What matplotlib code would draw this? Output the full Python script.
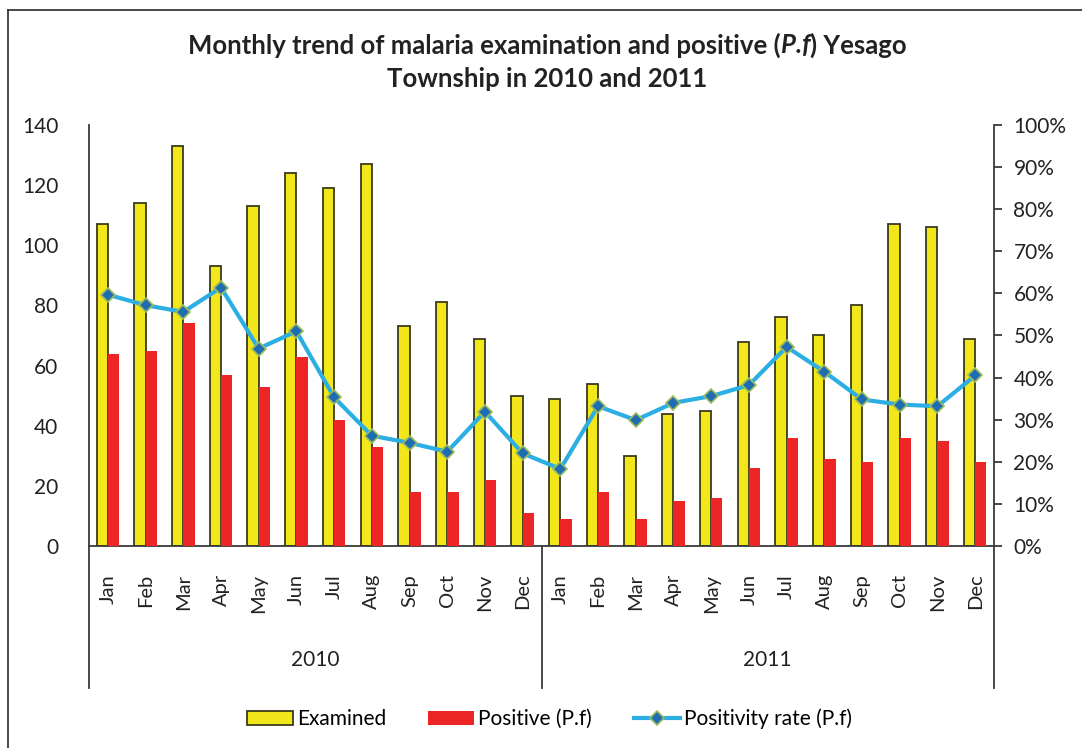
import numpy as np
import matplotlib.pyplot as plt
from matplotlib.lines import Line2D
from matplotlib.patches import Patch
import matplotlib.transforms as mtransforms

plt.rcParams['font.family'] = ['Lato', 'DejaVu Sans']

months = ['Jan', 'Feb', 'Mar', 'Apr', 'May', 'Jun', 'Jul', 'Aug', 'Sep', 'Oct', 'Nov', 'Dec']
years = ['2010', '2011']

examined = [107, 114, 133, 93, 113, 124, 119, 127, 73, 81, 69, 50,
            49, 54, 30, 44, 45, 68, 76, 70, 80, 107, 106, 69]
positive = [64, 65, 74, 57, 53, 63, 42, 33, 18, 18, 22, 11,
            9, 18, 9, 15, 16, 26, 36, 29, 28, 36, 35, 28]
rate = [59.7, 57.2, 55.6, 61.4, 46.9, 51.0, 35.3, 26.2, 24.5, 22.4, 31.9, 22.0,
        18.3, 33.2, 29.9, 34.0, 35.6, 38.2, 47.3, 41.4, 34.8, 33.6, 33.2, 40.5]

c_yel = '#F2E71A'
c_red = '#EE2526'
c_line = '#2BAEE3'
c_axis = '#3a3a3a'
c_txt = '#222222'

fig = plt.figure(figsize=(10.82, 7.48), dpi=100)
ax = fig.add_axes([89 / 1082, 202 / 748, 905 / 1082, 421 / 748])
ax2 = ax.twinx()

x = np.arange(len(examined))
w = 0.3
ax.bar(x - w / 2, examined, w, color=c_yel, edgecolor='#3b3a1c', linewidth=1.3, zorder=2)
ax.bar(x + w / 2, positive, w, color=c_red, linewidth=0, zorder=3)
ax2.plot(x, rate, color=c_line, lw=3, marker='D', ms=7, mfc='#1E6DB3',
         mec='#9DBB5A', mew=1.2, zorder=4)

ax.set_xlim(-0.5, len(x) - 0.5)
ax.set_ylim(0, 140)
ax.set_yticks(range(0, 141, 20))
ax2.set_ylim(0, 100)
ax2.set_yticks(range(0, 101, 10))
ax2.set_yticklabels([f'{v}%' for v in range(0, 101, 10)])

ax.set_xticks(x)
ax.set_xticklabels(months * 2, rotation=90, fontsize=14.5, color=c_txt)
ax.tick_params(axis='x', length=0, pad=20)
ax.tick_params(axis='y', length=0, pad=22, labelsize=15, colors=c_txt)
ax2.tick_params(axis='y', direction='out', length=6, width=1.3, color=c_axis,
                labelsize=15, labelcolor=c_txt, pad=8)

for a in (ax, ax2):
    a.spines['top'].set_visible(False)
    for s in ('left', 'right', 'bottom'):
        a.spines[s].set_color(c_axis)
        a.spines[s].set_linewidth(1.3)
ax.spines['right'].set_visible(False)
ax2.spines['left'].set_visible(False)
ax2.spines['bottom'].set_visible(False)

trans = mtransforms.blended_transform_factory(ax.transData, ax.transAxes)
for sep in (-0.5, 11.5, 23.5):
    ax.plot([sep, sep], [0, -0.337], transform=trans, color=c_axis, lw=1.3, clip_on=False)
for i, yr in enumerate(years):
    ax.text(i * 12 + 5.5, -0.271, yr, transform=trans, ha='center', va='center',
            fontsize=15, color=c_txt)

# title, with the italic P.f placed piece by piece
renderer = fig.canvas.get_renderer()
parts = [('Monthly trend of malaria examination and positive (', 'normal'),
         ('P.f', 'italic'), (') Yesago', 'normal')]
texts = [fig.text(0, 0.94, s, style=st, fontweight='bold', fontsize=18.5,
                  color=c_txt, va='center', ha='left') for s, st in parts]
widths = [t.get_window_extent(renderer).width / fig.bbox.width for t in texts]
xpos = 0.506 - sum(widths) / 2
for t, wd in zip(texts, widths):
    t.set_x(xpos)
    xpos += wd
fig.text(0.506, 0.895, 'Township in 2010 and 2011', ha='center', va='center',
         fontsize=18.5, fontweight='bold', color=c_txt)

handles = [Patch(facecolor=c_yel, edgecolor='#3b3a1c', linewidth=1.3),
           Patch(facecolor=c_red, linewidth=0),
           Line2D([], [], color=c_line, lw=3, marker='D', ms=7, mfc='#1E6DB3',
                  mec='#9DBB5A', mew=1.2)]
fig.legend(handles, ['Examined', 'Positive (P.f)', 'Positivity rate (P.f)'],
           loc='center', bbox_to_anchor=(0.508, 0.039), ncol=3, frameon=False,
           fontsize=15, handlelength=2.2, handleheight=0.65, columnspacing=2.0,
           handletextpad=0.2)

# outer chart frame (cropped on the right and bottom)
fig.add_artist(Line2D([8 / 1082, 8 / 1082], [0, 1 - 10 / 748], color=c_axis, lw=1.3))
fig.add_artist(Line2D([8 / 1082, 1], [1 - 10 / 748, 1 - 10 / 748], color=c_axis, lw=1.3))

fig.savefig('out.png', dpi=100)
